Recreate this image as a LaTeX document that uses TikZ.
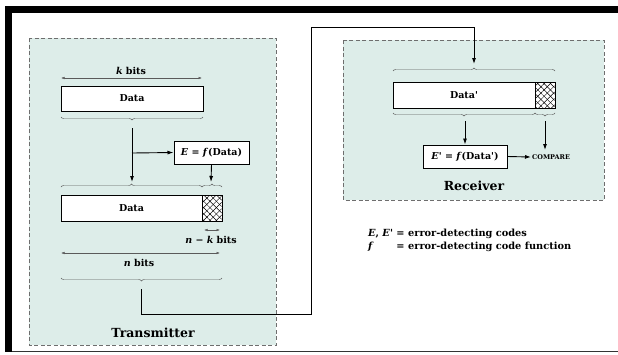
\documentclass[tikz,border=0pt]{standalone}
\usepackage{fontspec}
\setmainfont{DejaVu Serif}
\usetikzlibrary{arrows.meta,decorations.pathreplacing,patterns.meta,positioning}
\definecolor{zonefill}{RGB}{221,237,233}
\definecolor{zoneline}{RGB}{110,110,110}
\definecolor{dimgray}{RGB}{90,90,90}
\newcommand{\sq}{\textquotesingle}
\tikzset{
  zone/.style={draw=zoneline,dashed,dash pattern=on 4pt off 2.5pt,line width=0.7pt,fill=zonefill},
  databox/.style={draw=black,line width=1pt,fill=white,inner sep=0pt,font=\fontsize{9.5}{12}\selectfont\bfseries},
  fbox/.style={draw=black,line width=1pt,fill=white,inner sep=1pt,font=\fontsize{9.5}{12}\selectfont\bfseries},
  dimline/.style={draw=dimgray,line width=0.5pt,{Latex[length=3.5pt,width=2.5pt]}-{Latex[length=3.5pt,width=2.5pt]}},
  brc/.style={draw=dimgray,line width=0.45pt,decorate,decoration={brace,amplitude=3pt}},
  brcm/.style={draw=dimgray,line width=0.45pt,decorate,decoration={brace,amplitude=3pt,mirror}},
  flow/.style={draw=black,line width=0.9pt,-{Latex[length=6pt,width=4pt]}},
  wire/.style={draw=black,line width=1pt},
  lbl/.style={font=\fontsize{9.5}{12}\selectfont\bfseries,inner sep=0pt},
  hatch/.style={pattern={Lines[angle=45,distance=4.5pt,line width=0.5pt]}},
  hatchb/.style={pattern={Lines[angle=-45,distance=4.5pt,line width=0.5pt]}},
}
\begin{document}
\begin{tikzpicture}[x=1pt,y=-1pt]
\useasboundingbox (0,0) rectangle (618,354);
% outer frame
\fill[black] (5,6) rectangle (618,13);
\fill[black] (5,6) rectangle (12,352);
\draw[line width=1.2pt,black!80] (12,351.5) -- (618,351.5);

% zones
\draw[zone] (29,38) rectangle (276,345);
\draw[zone] (343,40) rectangle (604,200);

% ---------- Transmitter ----------
\node[lbl] (kb) at (131,71) {\textit{k} bits};
\coordinate (k1) at (61,78);
\coordinate (k2) at (202,78);
\draw[dimline] (k1) -- (k2);
\node[databox,minimum width=142pt,minimum height=25pt] (d1) at (132,98.5) {Data};
\coordinate (b1a) at (61,117);
\coordinate (b1b) at (203,117);
\draw[brcm] (b1a) -- (b1b);
\coordinate (a1s) at (132,128);
\coordinate (a1e) at (132,182);
\coordinate (a1m) at (132,153);
\node[fbox,minimum width=75pt,minimum height=23pt] (E) at (211.5,152.5) {\textit{E} = \textit{f}(Data)};
\draw[flow] (a1s) -- (a1e);
\draw[flow] (a1m) -- (E.west);
\coordinate (a2e) at (211,182);
\draw[flow] (E.south) -- (a2e);

\coordinate (b2a) at (61,187);
\coordinate (b2b) at (202,187);
\coordinate (b2c) at (222,187);
\draw[brc] (b2a) -- (b2b);
\draw[brc] (b2b) -- (b2c);
\node[databox,minimum width=161pt,minimum height=26pt] (d2) at (141.5,208) {};
\fill[hatch] (202,195.5) rectangle (221.5,220.5);
\fill[hatchb] (202,195.5) rectangle (221.5,220.5);
\draw[line width=1pt] (202,195) -- (202,221);
\node[lbl] (d2t) at (131.5,208) {Data};

\coordinate (nk1) at (204,230);
\coordinate (nk2) at (220,230);
\draw[dimline] (nk1) -- (nk2);
\node[lbl] (nkt) at (211,240) {\textit{n} − \textit{k} bits};
\coordinate (n1) at (61,253);
\coordinate (n2) at (220,253);
\draw[dimline] (n1) -- (n2);
\node[lbl] (nt) at (139,263) {\textit{n} bits};
\coordinate (b3a) at (61,278);
\coordinate (b3b) at (222,278);
\draw[brcm] (b3a) -- (b3b);

\node[font=\fontsize{12.5}{14}\selectfont\bfseries] (tx) at (153,333) {Transmitter};

% ---------- connector ----------
\coordinate (c0) at (141,289);
\coordinate (c1) at (311,314);
\coordinate (c2) at (474,27);
\coordinate (c3) at (474,64);
\draw[wire] (c0) |- (c1) |- (c2);
\draw[flow] (c2) -- (c3);

% ---------- Receiver ----------
\coordinate (r1a) at (393,71);
\coordinate (r1b) at (555,71);
\draw[brc] (r1a) -- (r1b);
\node[databox,minimum width=162pt,minimum height=26pt] (d3) at (474,95) {};
\fill[hatch] (535,82.5) rectangle (554.5,107.5);
\fill[hatchb] (535,82.5) rectangle (554.5,107.5);
\draw[line width=1pt] (535,82) -- (535,108);
\node[lbl] (d3t) at (464,95) {Data\sq};
\coordinate (r2a) at (393,113);
\coordinate (r2b) at (535,113);
\coordinate (r2c) at (555,113);
\draw[brcm] (r2a) -- (r2b);
\draw[brcm] (r2b) -- (r2c);

\node[fbox,minimum width=84pt,minimum height=23pt] (Ep) at (465,156.5) {\textit{E}\sq{} = \textit{f}(Data\sq)};
\coordinate (r3s) at (465,121);
\draw[flow] (r3s) -- (Ep.north);
\node[font=\fontsize{6.5}{8}\selectfont\bfseries,inner sep=1pt,anchor=west] (cmp) at (531,157) {COMPARE};
\coordinate (r4s) at (545,121);
\coordinate (r4e) at (545,150);
\draw[flow] (r4s) -- (r4e);
\draw[flow] (Ep.east) -- (cmp.west);

\node[font=\fontsize{12.5}{14}\selectfont\bfseries] (rx) at (474,186) {Receiver};

% ---------- legend ----------
\node[anchor=north west,inner sep=0pt,font=\fontsize{9.8}{13}\selectfont\bfseries] (leg) at (368,227)
 {\begin{tabular}{@{}l@{\ }l@{}}\textit{E}, \textit{E}\sq{} & = error-detecting codes\\
  \textit{f} & = error-detecting code function\end{tabular}};
\end{tikzpicture}
\end{document}
